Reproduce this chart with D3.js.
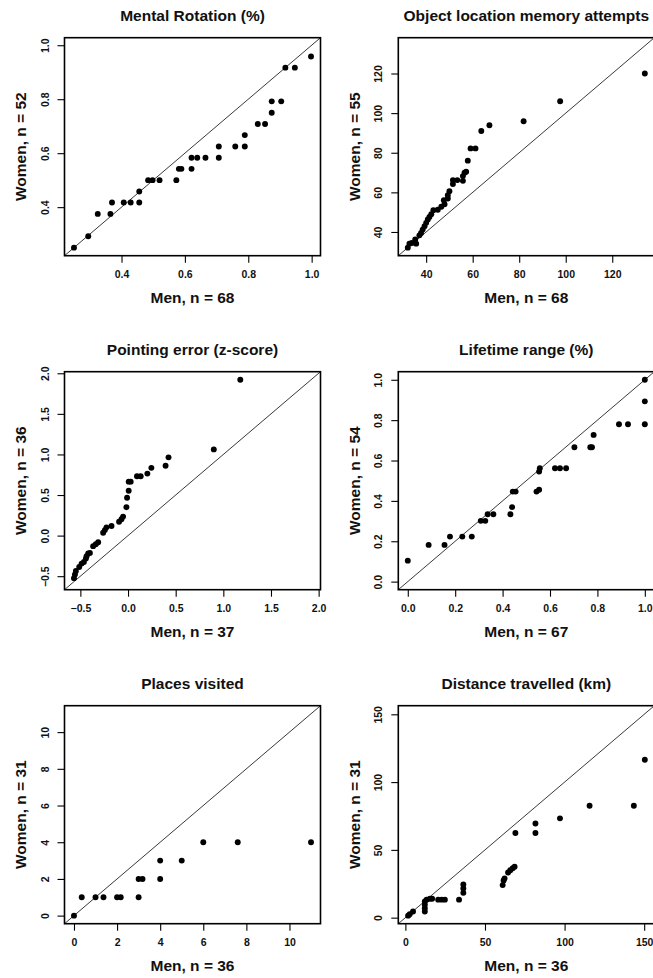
<!DOCTYPE html>
<html><head><meta charset="utf-8">
<script src="https://cdn.jsdelivr.net/npm/d3@7/dist/d3.min.js"></script>
<style>
html,body{margin:0;padding:0;background:#fff;}
svg{display:block;}
text{font-family:"Liberation Sans",Arial,sans-serif;font-weight:bold;fill:#111;}
</style></head>
<body>
<script>
// ---- data (quantile pairs) ----
const titles = ["Mental Rotation (%)", "Object location memory attempts", "Pointing error (z-score)",
                "Lifetime range (%)", "Places visited", "Distance travelled (km)"];
const menN   = [68, 68, 37, 67, 36, 36];
const womenN = [52, 55, 36, 54, 31, 31];

const mentalMen   = [0.25,0.295,0.325,0.365,0.37,0.407,0.429,0.456,0.456,0.484,0.498,0.52,0.573,0.581,0.589,0.621,0.621,0.639,0.665,0.707,0.707,0.759,0.789,0.789,0.83,0.853,0.874,0.874,0.904,0.917,0.947,0.998];
const mentalWomen = [0.25,0.292,0.375,0.375,0.417,0.417,0.417,0.417,0.458,0.5,0.5,0.5,0.5,0.542,0.542,0.542,0.583,0.583,0.583,0.583,0.625,0.625,0.625,0.667,0.708,0.708,0.75,0.792,0.792,0.917,0.917,0.958];

const objectMen   = [32.1,32.8,33.8,35.3,35.7,37.1,37.8,38.5,39.3,40,40.7,41.4,42.2,43.1,45,46.5,47.6,47.9,49.3,49.3,50,51.5,51.5,53.4,55.8,55.8,56.5,57.2,57.9,59.1,61.2,63.7,67.2,81.9,97.6,134];
const objectWomen = [32.1,34.1,34.4,36.2,34.1,38.3,39.5,41.2,42.9,44.6,46.3,47.6,49,51,51.2,52.7,56,54,56.9,58.6,60.6,64.2,66.2,66.2,65.8,68.2,69.9,70.4,76,82.2,82.2,91,93.9,95.9,106,120];

const pointingMen   = [-0.567,-0.557,-0.547,-0.512,-0.487,-0.463,-0.442,-0.435,-0.418,-0.40,-0.366,-0.338,-0.313,-0.261,-0.243,-0.226,-0.173,-0.094,-0.069,-0.052,-0.017,-0.01,0.007,0.007,0.028,0.094,0.133,0.203,0.245,0.394,0.425,0.90,1.178];
const pointingWomen = [-0.524,-0.478,-0.437,-0.387,-0.345,-0.325,-0.283,-0.255,-0.221,-0.213,-0.13,-0.106,-0.081,0.035,0.068,0.102,0.118,0.171,0.201,0.234,0.35,0.466,0.553,0.665,0.665,0.731,0.731,0.764,0.835,0.861,0.964,1.062,1.92];

const lifetimeMen   = [0,0.088,0.155,0.178,0.230,0.270,0.308,0.327,0.337,0.361,0.433,0.440,0.443,0.455,0.543,0.554,0.554,0.557,0.621,0.642,0.668,0.703,0.770,0.777,0.784,0.891,0.929,1.0,1.0,1.0];
const lifetimeWomen = [0.104,0.182,0.182,0.223,0.223,0.223,0.301,0.301,0.334,0.334,0.334,0.369,0.446,0.446,0.446,0.455,0.545,0.562,0.562,0.562,0.562,0.666,0.666,0.666,0.727,0.78,0.78,0.78,0.893,1.0];

const placesMen   = [0,0.36,1,1.37,2,2.17,3,3,3.18,4,4,5,6,7.6,11];
const placesWomen = [0,1,1,1,1,1,1,2,2,2,3,3,4,4,4];

const distanceMen   = [1.7,2.7,4.8,12.2,12.2,12.2,12.2,13.3,15.4,16.8,20.6,22.8,24.8,33.7,36.4,36.4,36.4,61.1,61.7,62.3,64.5,65.9,67.4,68.6,69.1,81.7,81.7,97.1,115.7,143.5,150.4];
const distanceWomen = [1.5,2.5,4.5,4.5,7,9.5,12,13.3,14,14,13.3,13.3,13.3,13.3,18.3,21.5,24.5,24,27.5,29,33.3,35,36.5,37.5,62.5,62.5,69.5,73.25,82.5,82.5,116.5];

const mentalTicks   = [0.4,0.6,0.8,1.0];
const objectTicks   = [40,60,80,100,120];
const pointingTicks = [-0.5,0,0.5,1,1.5,2];
const lifetimeTicks = [0,0.2,0.4,0.6,0.8,1.0];
const placesTicks   = [0,2,4,6,8,10];
const distanceTicks = [0,50,100,150];
const tickDecimals  = [1,0,1,1,0,0];

const menSeries   = [mentalMen, objectMen, pointingMen, lifetimeMen, placesMen, distanceMen];
const womenSeries = [mentalWomen, objectWomen, pointingWomen, lifetimeWomen, placesWomen, distanceWomen];
const tickSets    = [mentalTicks, objectTicks, pointingTicks, lifetimeTicks, placesTicks, distanceTicks];

// ---- layout ----
const W = 653, H = 978;
const colX = [64.5, 398.3], rowY = [37.7, 371.7, 705.7];
const boxW = 256, boxH = 218;

const svg = d3.select("body").append("svg").attr("width", W).attr("height", H);

titles.forEach((title, i) => {
  const men = menSeries[i], women = womenSeries[i];
  const x0 = colX[i % 2], y0 = rowY[Math.floor(i / 2)];
  const ext = d3.extent(men.concat(women));
  const pad = (ext[1] - ext[0]) * 0.04;
  const dom = [ext[0] - pad, ext[1] + pad];
  const x = d3.scaleLinear().domain(dom).range([0, boxW]);
  const y = d3.scaleLinear().domain(dom).range([boxH, 0]);
  const fmt = d3.format("." + tickDecimals[i] + "f");
  const g = svg.append("g").attr("transform", `translate(${x0},${y0})`);

  // diagonal y = x
  g.append("line")
    .attr("x1", x(dom[0])).attr("y1", y(dom[0]))
    .attr("x2", x(dom[1])).attr("y2", y(dom[1]))
    .attr("stroke", "#222").attr("stroke-width", 0.9);

  // points
  g.selectAll("circle").data(men.map((m, k) => [m, women[k]])).join("circle")
    .attr("cx", d => x(d[0])).attr("cy", d => y(d[1])).attr("r", 2.95).attr("fill", "#000");

  // axes
  const ax = g.append("g").attr("transform", `translate(0,${boxH})`)
    .call(d3.axisBottom(x).tickValues(tickSets[i]).tickFormat(fmt).tickSize(7).tickPadding(6));
  const ay = g.append("g")
    .call(d3.axisLeft(y).tickValues(tickSets[i]).tickFormat(fmt).tickSize(7).tickPadding(6));
  [ax, ay].forEach(a => {
    a.select(".domain").remove();
    a.selectAll(".tick line").attr("stroke", "#000").attr("stroke-width", 1.1);
    a.selectAll(".tick text").style("font-size", "10.5px").attr("fill", "#111");
  });
  ax.selectAll(".tick text").attr("y", 15);
  ay.selectAll(".tick text")
    .attr("text-anchor", "middle").attr("x", 0).attr("y", 0).attr("dy", "0.35em")
    .attr("transform", "translate(-19.5,0) rotate(-90)");

  // box
  g.append("rect").attr("x", 0).attr("y", 0).attr("width", boxW).attr("height", boxH)
    .attr("fill", "none").attr("stroke", "#000").attr("stroke-width", 1.6);

  // title and labels
  g.append("text").attr("x", boxW / 2).attr("y", -22.5).attr("dy", "0.35em")
    .attr("text-anchor", "middle").style("font-size", "15.5px").text(title);
  g.append("text").attr("x", boxW / 2).attr("y", boxH + 42).attr("dy", "0.35em")
    .attr("text-anchor", "middle").style("font-size", "15.5px").text(`Men, n = ${menN[i]}`);
  g.append("text").attr("transform", `translate(-44,${boxH / 2}) rotate(-90)`).attr("dy", "0.35em")
    .attr("text-anchor", "middle").style("font-size", "15.5px").text(`Women, n = ${womenN[i]}`);
});
</script>
</body></html>
